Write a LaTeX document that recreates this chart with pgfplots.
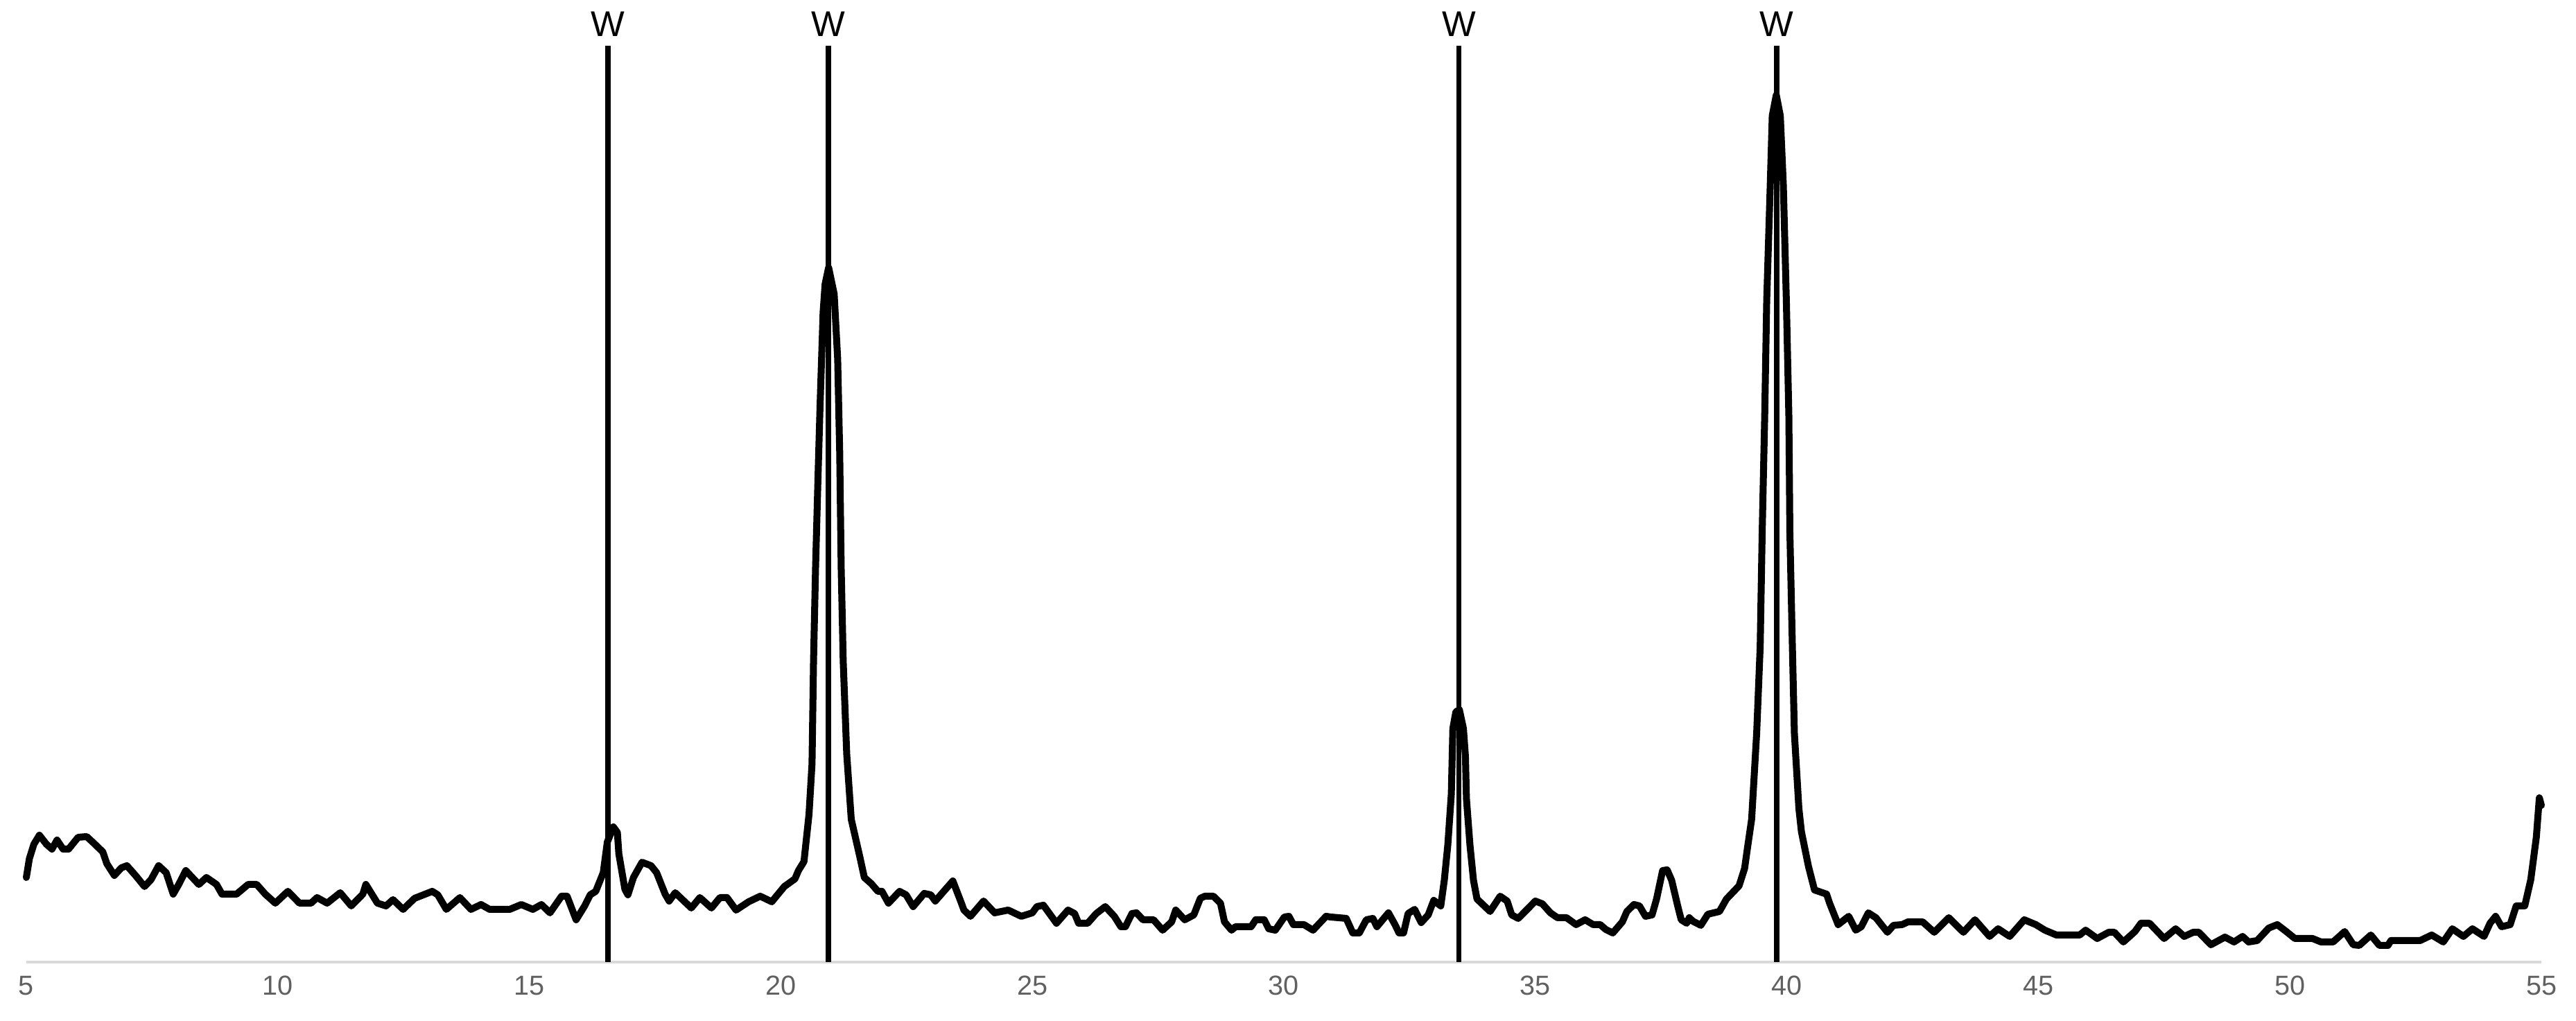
\documentclass[border=0pt]{standalone}
\usepackage{fontspec}
\setmainfont{Liberation Sans}
\usepackage{pgfplots}
\pgfplotsset{compat=1.18}
\definecolor{axisgray}{RGB}{217,217,217}
\definecolor{tickgray}{RGB}{96,96,96}
\begin{document}
\begin{tikzpicture}
% page frame: 3716 x 1473 px at 6 px per pt
\path[use as bounding box] (-6.33pt,-14.17pt) rectangle (613pt,231.33pt);
\begin{axis}[
    at={(0,0)}, anchor=south west,
    scale only axis, width=604.67pt, height=220.33pt,
    xmin=5, xmax=55, ymin=4, ymax=1326,
    axis x line*=bottom, axis y line=none,
    x axis line style={draw=axisgray, line width=0.78pt},
    xtick={5,10,...,55}, major tick length=0pt,
    xticklabel style={anchor=base, yshift=-8.0pt, text=tickgray,
        font=\fontsize{6.6}{8}\selectfont},
    /pgf/number format/assume math mode=true,
    clip=false
]
% diffraction pattern
\addplot[black, line width=1.67pt, line join=round, line cap=round] coordinates {
(5.0,126) (5.06,153) (5.15,174) (5.26,187) (5.4,174) (5.51,167) (5.61,180)
(5.73,167) (5.84,167) (6.03,184) (6.2,185) (6.32,177) (6.52,163) (6.6,146)
(6.75,129) (6.89,140) (7.0,143) (7.17,129) (7.35,113) (7.48,123) (7.63,143)
(7.78,133) (7.92,102) (8.03,116) (8.17,136) (8.43,116) (8.58,126) (8.78,116)
(8.89,102) (9.18,102) (9.41,116) (9.58,116) (9.75,102) (9.95,89) (10.2,106)
(10.43,89) (10.66,89) (10.78,97) (10.98,89) (11.24,104) (11.46,85) (11.69,102)
(11.75,116) (11.98,89) (12.15,85) (12.29,94) (12.49,80) (12.72,96) (13.07,106)
(13.18,101) (13.35,80) (13.62,97) (13.84,80) (14.04,87) (14.21,80) (14.61,80)
(14.84,87) (15.07,80) (15.24,87) (15.41,75) (15.64,99) (15.75,99) (15.93,65)
(16.1,85) (16.21,101) (16.32,106) (16.47,133) (16.55,177) (16.67,199) (16.75,191)
(16.78,160) (16.9,109) (16.96,101) (17.07,126) (17.24,148) (17.42,143) (17.53,133)
(17.7,102) (17.78,92) (17.9,104) (18.22,82) (18.39,97) (18.62,82) (18.79,97)
(18.93,97) (19.11,79) (19.36,91) (19.59,99) (19.82,91) (20.07,113) (20.28,124)
(20.35,136) (20.46,149) (20.56,217) (20.62,290) (20.65,438) (20.69,572) (20.74,706)
(20.78,807) (20.84,941) (20.88,982) (20.95,1006) (21.06,968) (21.13,874) (21.17,740)
(21.2,572) (21.24,438) (21.31,304) (21.4,210) (21.57,156) (21.66,126) (21.8,117)
(21.93,106) (22.01,106) (22.14,89) (22.36,106) (22.49,101) (22.63,84) (22.85,103)
(22.98,101) (23.07,92) (23.42,121) (23.59,89) (23.64,79) (23.77,70) (24.03,92)
(24.25,75) (24.52,79) (24.78,70) (25.0,75) (25.09,84) (25.22,86) (25.48,60)
(25.71,79) (25.84,74) (25.92,60) (26.1,60) (26.27,74) (26.45,84) (26.63,70)
(26.76,55) (26.85,55) (26.98,74) (27.07,75) (27.2,65) (27.41,65) (27.59,50)
(27.77,62) (27.85,79) (28.03,65) (28.21,72) (28.34,96) (28.43,99) (28.6,99)
(28.74,89) (28.82,62) (28.96,50) (29.04,55) (29.35,55) (29.44,65) (29.61,65)
(29.7,52) (29.83,50) (30.01,69) (30.1,70) (30.19,58) (30.4,58) (30.58,50)
(30.84,70) (30.93,69) (31.24,67) (31.37,46) (31.5,46) (31.64,65) (31.77,67)
(31.85,55) (32.08,75) (32.21,58) (32.29,46) (32.38,46) (32.47,74) (32.6,80)
(32.73,61) (32.87,72) (32.98,93) (33.12,85) (33.19,122) (33.26,173) (33.33,247)
(33.36,341) (33.42,365) (33.49,368) (33.57,341) (33.61,301) (33.63,240) (33.7,173)
(33.77,122) (33.84,95) (34.1,77) (34.3,99) (34.44,92) (34.53,72) (34.66,67)
(34.77,75) (35.0,92) (35.14,88) (35.3,75) (35.44,68) (35.62,68) (35.81,58)
(35.99,65) (36.15,58) (36.29,58) (36.4,51) (36.54,46) (36.73,62) (36.82,77)
(36.96,87) (37.07,85) (37.19,70) (37.32,72) (37.41,95) (37.53,136) (37.62,137)
(37.71,122) (37.83,85) (37.9,65) (38.01,60) (38.06,68) (38.13,63) (38.29,57)
(38.43,73) (38.66,77) (38.8,95) (39.05,114) (39.16,139) (39.22,170) (39.3,210)
(39.4,334) (39.47,459) (39.51,625) (39.56,792) (39.6,959) (39.67,1125) (39.71,1225)
(39.79,1255) (39.87,1225) (39.93,1125) (39.99,959) (40.04,792) (40.06,625) (40.11,459)
(40.15,334) (40.24,225) (40.29,192) (40.43,142) (40.55,108) (40.79,102) (40.85,89)
(41.02,58) (41.23,70) (41.37,50) (41.48,55) (41.62,75) (41.77,68) (42.0,47)
(42.12,57) (42.29,58) (42.41,62) (42.7,62) (42.93,47) (43.22,68) (43.51,47)
(43.74,65) (44.03,41) (44.2,52) (44.43,41) (44.72,65) (44.95,58) (45.13,50)
(45.36,43) (45.82,43) (45.94,50) (46.17,38) (46.4,47) (46.51,47) (46.69,33)
(46.92,48) (47.04,60) (47.21,60) (47.5,38) (47.73,52) (47.9,41) (48.08,47)
(48.19,47) (48.43,29) (48.71,40) (48.89,33) (49.06,41) (49.18,33) (49.35,35)
(49.58,53) (49.75,58) (49.93,48) (50.1,38) (50.45,38) (50.62,33) (50.86,33)
(51.09,48) (51.26,29) (51.38,28) (51.61,43) (51.78,28) (51.95,28) (52.01,35)
(52.59,35) (52.82,43) (53.05,33) (53.23,52) (53.45,41) (53.63,52) (53.86,41)
(53.98,60) (54.09,70) (54.21,55) (54.38,58) (54.5,85) (54.67,85) (54.79,123)
(54.9,184) (54.96,241) (55.0,230)
};
% reference lines
\addplot[black, line width=1.28pt] coordinates {(16.56,4) (16.56,1326)};
\addplot[black, line width=1.28pt] coordinates {(20.95,4) (20.95,1326)};
\addplot[black, line width=1.28pt] coordinates {(33.48,4) (33.48,1326)};
\addplot[black, line width=1.28pt] coordinates {(39.8,4) (39.8,1326)};
\node[anchor=base, inner sep=0pt, font=\fontsize{8.6}{10}\selectfont] at (axis cs:16.56,1339) {W};
\node[anchor=base, inner sep=0pt, font=\fontsize{8.6}{10}\selectfont] at (axis cs:20.95,1339) {W};
\node[anchor=base, inner sep=0pt, font=\fontsize{8.6}{10}\selectfont] at (axis cs:33.48,1339) {W};
\node[anchor=base, inner sep=0pt, font=\fontsize{8.6}{10}\selectfont] at (axis cs:39.8,1339) {W};
\end{axis}
\end{tikzpicture}
\end{document}
